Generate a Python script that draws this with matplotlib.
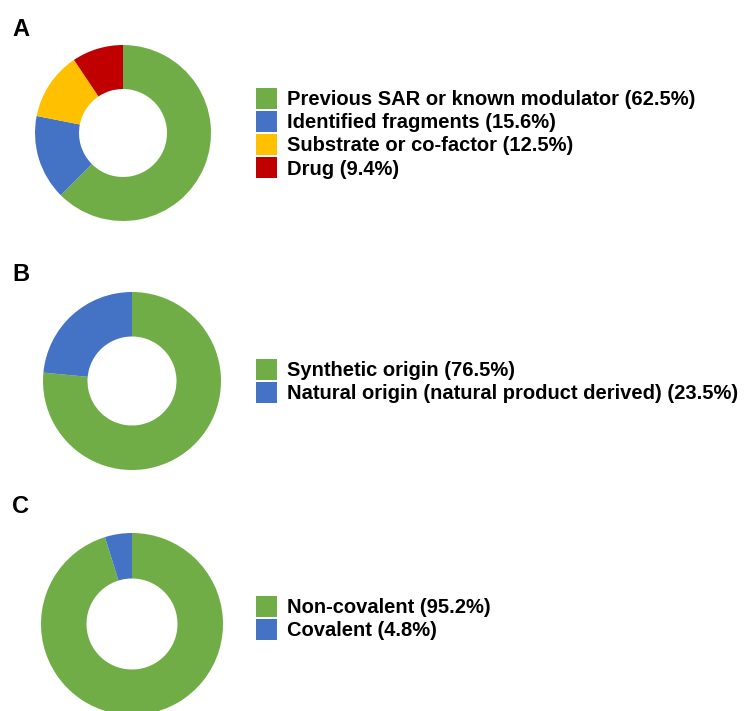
import matplotlib.pyplot as plt

plt.rcParams['font.family'] = ['Liberation Sans', 'DejaVu Sans']

W, H = 747, 711

# panel A
labels_a = ['Previous SAR or known modulator (62.5%)', 'Identified fragments (15.6%)',
            'Substrate or co-factor (12.5%)', 'Drug (9.4%)']
values_a = [62.5, 15.6, 12.5, 9.4]
colors_a = ['#70AD47', '#4472C4', '#FFC000', '#C00000']

# panel B
labels_b = ['Synthetic origin (76.5%)', 'Natural origin (natural product derived) (23.5%)']
values_b = [76.5, 23.5]
colors_b = ['#70AD47', '#4472C4']

# panel C
labels_c = ['Non-covalent (95.2%)', 'Covalent (4.8%)']
values_c = [95.2, 4.8]
colors_c = ['#70AD47', '#4472C4']

fig = plt.figure(figsize=(W / 100, H / 100), dpi=100)


def donut(cx, cy, r, values, colors, labels, letter, letter_y, leg_x, leg_y):
    ax = fig.add_axes([(cx - r) / W, (H - cy - r) / H, 2 * r / W, 2 * r / H])
    wedges, _ = ax.pie(values, colors=colors, startangle=90, counterclock=False,
                       wedgeprops=dict(width=0.5, linewidth=0))
    ax.set_xlim(-1, 1)
    ax.set_ylim(-1, 1)
    fig.text(12 / W, 1 - letter_y / H, letter, fontsize=17, fontweight='bold',
             va='top', ha='left')
    fig.legend(wedges, labels, loc='upper left', bbox_to_anchor=(leg_x / W, 1 - leg_y / H),
               frameon=False, prop=dict(size=14.5, weight='bold'),
               handlelength=1.05, handleheight=1.2, handletextpad=0.5,
               labelspacing=0.1, borderpad=0, borderaxespad=0)


donut(123, 133, 88, values_a, colors_a, labels_a, 'A', 18, 256, 88)
donut(132, 381, 89, values_b, colors_b, labels_b, 'B', 263, 256, 359)
donut(132, 624, 91, values_c, colors_c, labels_c, 'C', 495, 256, 596)

fig.savefig('out.png', dpi=100)
